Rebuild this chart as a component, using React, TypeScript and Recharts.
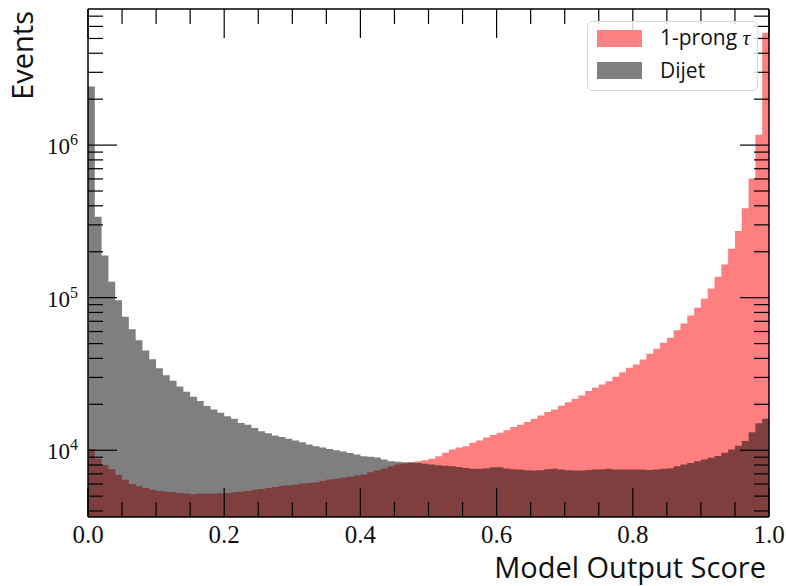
import React from 'react';
import { ComposedChart, Area, XAxis, YAxis, Legend } from 'recharts';

// Model output score histogram, 100 bins on [0, 1]
const BIN_WIDTH = 0.01;

// 1-prong tau events per bin
const tauCounts = [
  10200, 8800, 8000, 7500, 6900, 6400, 6000, 5800, 5650, 5500,
  5400, 5350, 5300, 5250, 5200, 5150, 5200, 5200, 5200, 5220,
  5250, 5300, 5350, 5400, 5500, 5580, 5650, 5750, 5850, 5900,
  5960, 6050, 6100, 6170, 6300, 6420, 6500, 6600, 6700, 6820,
  6930, 7180, 7400, 7590, 7860, 8060, 8180, 8340, 8470, 8590,
  8780, 9140, 9620, 10100, 10400, 10600, 11200, 11600, 12100, 12600,
  13000, 13500, 14200, 14700, 15300, 16100, 16900, 17800, 18500, 19600,
  20600, 21700, 22800, 24400, 25700, 27000, 28300, 30300, 32500, 34700,
  36500, 39300, 42900, 46300, 50600, 54600, 61200, 67700, 76500, 85900,
  98400, 115000, 137000, 165000, 209000, 273000, 385000, 603000, 1170000, 5460000,
];

// dijet events per bin
const dijetCounts = [
  2420000, 339000, 189000, 127000, 96000, 75000, 62000, 52500, 45000, 39500,
  34500, 31000, 28500, 26200, 24200, 22400, 21000, 19500, 18500, 17600,
  16700, 16100, 15100, 14700, 14000, 13300, 12900, 12500, 12200, 11900,
  11600, 11300, 10900, 10600, 10400, 10200, 10000, 9800, 9600, 9370,
  9140, 9050, 8950, 8700, 8470, 8400, 8340, 8300, 8260, 8150,
  8050, 7980, 7920, 7850, 7750, 7660, 7550, 7550, 7620, 7740,
  7730, 7580, 7500, 7470, 7390, 7350, 7390, 7500, 7550, 7470,
  7390, 7350, 7350, 7430, 7470, 7500, 7550, 7470, 7470, 7470,
  7470, 7470, 7430, 7470, 7550, 7620, 7850, 8050, 8260, 8470,
  8690, 8910, 9150, 9620, 10100, 10700, 11500, 13100, 15000, 16100,
];

const xMajorTicks = [0, 0.2, 0.4, 0.6, 0.8, 1.0];
const xMinorTicks = [
  0.05, 0.1, 0.15, 0.25, 0.3, 0.35, 0.45, 0.5, 0.55,
  0.65, 0.7, 0.75, 0.85, 0.9, 0.95,
];
const yMajorTicks = [1e4, 1e5, 1e6];
const yMinorTicks = [
  4e3, 5e3, 6e3, 7e3, 8e3, 9e3,
  2e4, 3e4, 4e4, 5e4, 6e4, 7e4, 8e4, 9e4,
  2e5, 3e5, 4e5, 5e5, 6e5, 7e5, 8e5, 9e5,
  2e6, 3e6, 4e6, 5e6, 6e6, 7e6,
];
const yDomain = [3650, 7.8e6];

const seriesNames = { tau: '1-prong τ', dijet: 'Dijet' };
const legendPatch: Record<string, string> = { tau: '#ff8080', dijet: '#808080' };

// one row per bin left edge, plus a closing point at x = 1 for the last step
const histData = tauCounts.map((tau, i) => ({ x: i * BIN_WIDTH, tau, dijet: dijetCounts[i] }));
histData.push({ x: 1, tau: tauCounts[99], dijet: dijetCounts[99] });

const xTicks = [...xMajorTicks, ...xMinorTicks].sort((a, b) => a - b);
const yTicks = [...yMajorTicks, ...yMinorTicks].sort((a, b) => a - b);

const SERIF = '"Liberation Serif", "DejaVu Serif", serif';
const SANS = '"Open Sans", "DejaVu Sans", sans-serif';
const MAJOR_LEN = 29;
const MINOR_LEN = 15;
const AXIS_SIZE = 1;

const isMajorX = (v: number) => Math.abs(v * 5 - Math.round(v * 5)) < 1e-6;
const isMajorY = (v: number) => Math.abs(Math.log10(v) - Math.round(Math.log10(v))) < 1e-6;

const XTick = (props: any) => {
  const { x, y, payload, side } = props;
  const major = isMajorX(payload.value);
  const len = major ? MAJOR_LEN : MINOR_LEN;
  const dir = side === 'bottom' ? -1 : 1;
  return (
    <g>
      <line x1={x} x2={x} y1={y} y2={y + dir * len} stroke="#000" strokeWidth={1.2} />
      {side === 'bottom' && major && (
        <text x={x} y={y + 26} textAnchor="middle" fontFamily={SERIF} fontSize={25} fill="#111">
          {payload.value.toFixed(1)}
        </text>
      )}
    </g>
  );
};

const YTick = (props: any) => {
  const { x, y, payload, side } = props;
  const major = isMajorY(payload.value);
  const len = major ? MAJOR_LEN : MINOR_LEN;
  const dir = side === 'left' ? 1 : -1;
  const exp = Math.round(Math.log10(payload.value));
  return (
    <g>
      <line x1={x} x2={x + dir * len} y1={y} y2={y} stroke="#000" strokeWidth={1.2} />
      {side === 'left' && major && (
        <text x={x - 10} y={y + 9} textAnchor="end" fontFamily={SERIF} fontSize={23} fill="#111">
          <tspan>10</tspan>
          <tspan dy={-9} fontSize={16}>{exp}</tspan>
        </text>
      )}
    </g>
  );
};

const eventsLabel = () => (
  <text
    x={33}
    y={11}
    transform="rotate(-90 33 11)"
    textAnchor="end"
    fontFamily={SANS}
    fontSize={29}
    fill="#111"
  >
    Events
  </text>
);

const scoreLabel = () => (
  <text x={766} y={578} textAnchor="end" fontFamily={SANS} fontSize={29} fill="#111">
    Model Output Score
  </text>
);

const HistLegend = (props: any) => {
  const { payload } = props;
  return (
    <div
      style={{
        position: 'relative',
        width: 169,
        height: 68,
        border: '1px solid #d8d8d8',
        borderRadius: 5,
        background: 'rgba(255,255,255,0.8)',
        fontFamily: SANS,
        fontSize: 21,
        color: '#111',
      }}
    >
      {(payload || []).map((entry: any, i: number) => (
        <div key={entry.dataKey} style={{ position: 'absolute', left: 9, top: 7 + i * 33, display: 'flex', alignItems: 'center' }}>
          <div style={{ width: 45, height: 17, background: legendPatch[entry.dataKey] }} />
          <div style={{ marginLeft: 18, lineHeight: '17px', whiteSpace: 'nowrap' }}>
            {entry.dataKey === 'tau' ? (
              <>
                1-prong <span style={{ fontFamily: SERIF, fontStyle: 'italic' }}>τ</span>
              </>
            ) : (
              entry.value
            )}
          </div>
        </div>
      ))}
    </div>
  );
};

export default function App() {
  return (
    <div style={{ position: 'absolute', left: 0, top: 0, width: 786, height: 586, background: '#fff' }}>
      <ComposedChart
        width={786}
        height={586}
        data={histData}
        margin={{ top: 9 - AXIS_SIZE, right: 17 - AXIS_SIZE, bottom: 69 - AXIS_SIZE, left: 88 - AXIS_SIZE }}
      >
        <Area
          type="stepAfter"
          dataKey="tau"
          name={seriesNames.tau}
          fill="#ff0000"
          fillOpacity={0.5}
          stroke="none"
          activeDot={false}
          isAnimationActive={false}
        />
        <Area
          type="stepAfter"
          dataKey="dijet"
          name={seriesNames.dijet}
          fill="#000000"
          fillOpacity={0.5}
          stroke="none"
          activeDot={false}
          isAnimationActive={false}
        />
        <XAxis
          dataKey="x"
          type="number"
          domain={[0, 1]}
          allowDataOverflow
          ticks={xTicks}
          interval={0}
          height={AXIS_SIZE}
          tickSize={0}
          tickMargin={0}
          tickLine={false}
          axisLine={{ stroke: '#000', strokeWidth: 1.5 }}
          tick={<XTick side="bottom" />}
          label={scoreLabel}
        />
        <XAxis
          xAxisId="top"
          orientation="top"
          dataKey="x"
          type="number"
          domain={[0, 1]}
          allowDataOverflow
          ticks={xTicks}
          interval={0}
          height={AXIS_SIZE}
          tickSize={0}
          tickMargin={0}
          tickLine={false}
          axisLine={{ stroke: '#000', strokeWidth: 1.5 }}
          tick={<XTick side="top" />}
        />
        <YAxis
          type="number"
          scale="log"
          domain={yDomain}
          allowDataOverflow
          ticks={yTicks}
          interval={0}
          width={AXIS_SIZE}
          tickSize={0}
          tickMargin={0}
          tickLine={false}
          axisLine={{ stroke: '#000', strokeWidth: 1.5 }}
          tick={<YTick side="left" />}
          label={eventsLabel}
        />
        <YAxis
          yAxisId="right"
          orientation="right"
          type="number"
          scale="log"
          domain={yDomain}
          allowDataOverflow
          ticks={yTicks}
          interval={0}
          width={AXIS_SIZE}
          tickSize={0}
          tickMargin={0}
          tickLine={false}
          axisLine={{ stroke: '#000', strokeWidth: 1.5 }}
          tick={<YTick side="right" />}
        />
        <Legend
          layout="vertical"
          align="center"
          verticalAlign="middle"
          wrapperStyle={{ left: 587, top: 21, width: 171, height: 70 }}
          content={<HistLegend />}
        />
      </ComposedChart>
    </div>
  );
}
